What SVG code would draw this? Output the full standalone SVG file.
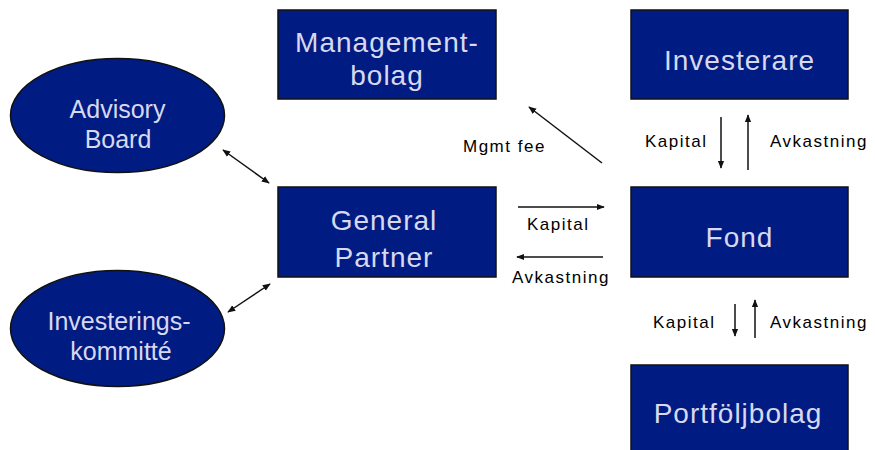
<svg xmlns="http://www.w3.org/2000/svg" width="875" height="450" viewBox="0 0 875 450">
<style>
.box{fill:#001c82;stroke:#111;stroke-width:1.5}
.nt{font-family:"Liberation Sans",Arial,sans-serif;font-size:28px;fill:#d8d8ee;text-anchor:middle;letter-spacing:1px}
.et{font-family:"Liberation Sans",Arial,sans-serif;font-size:25px;fill:#d8d8ee;text-anchor:middle}
.lt{font-family:"Liberation Sans",Arial,sans-serif;font-size:17px;fill:#000;letter-spacing:1.5px}
.c{stroke:#111;stroke-width:1.5;fill:none}
</style>
<defs>
<marker id="ah" viewBox="0 0 10 10" refX="9" refY="5" markerWidth="8" markerHeight="8" markerUnits="userSpaceOnUse" orient="auto-start-reverse">
<path d="M0,1 L10,5 L0,9 z" fill="#111"/>
</marker>
</defs>
<g id="management">
<rect class="box" x="278" y="10" width="218" height="89"/>
<text class="nt" x="387" y="52">Management-</text>
<text class="nt" x="387" y="85">bolag</text>
</g>
<g id="investerare">
<rect class="box" x="631" y="10" width="217" height="89"/>
<text class="nt" x="739.5" y="70">Investerare</text>
</g>
<g id="advisory">
<ellipse class="box" cx="117.5" cy="115.5" rx="107" ry="57"/>
<text class="et" x="117.5" y="118">Advisory</text>
<text class="et" x="118" y="148">Board</text>
</g>
<g id="gp">
<rect class="box" x="278" y="187" width="218" height="90"/>
<text class="nt" x="384" y="230">General</text>
<text class="nt" x="384" y="267">Partner</text>
</g>
<g id="fond">
<rect class="box" x="631" y="187" width="217" height="90"/>
<text class="nt" x="739.5" y="247">Fond</text>
</g>
<g id="ik">
<ellipse class="box" cx="117.5" cy="328.5" rx="107" ry="58"/>
<text class="et" x="119" y="330">Investerings-</text>
<text class="et" x="121" y="360">kommitté</text>
</g>
<g id="portfolj">
<rect class="box" x="631" y="365" width="217" height="95"/>
<text class="nt" x="738" y="423">Portföljbolag</text>
</g>
<g id="connectors">
<line class="c" x1="223" y1="150" x2="269" y2="183" marker-start="url(#ah)" marker-end="url(#ah)"/>
<line class="c" x1="228" y1="312" x2="270" y2="284" marker-start="url(#ah)" marker-end="url(#ah)"/>
<line class="c" x1="602" y1="163" x2="529" y2="107" marker-end="url(#ah)"/>
<line class="c" x1="518" y1="207" x2="604" y2="207" marker-end="url(#ah)"/>
<line class="c" x1="603" y1="257" x2="517" y2="257" marker-end="url(#ah)"/>
<line class="c" x1="721" y1="117" x2="721" y2="168" marker-end="url(#ah)"/>
<line class="c" x1="748" y1="170" x2="748" y2="115" marker-end="url(#ah)"/>
<line class="c" x1="735" y1="304" x2="735" y2="336" marker-end="url(#ah)"/>
<line class="c" x1="755" y1="338" x2="755" y2="300" marker-end="url(#ah)"/>
</g>
<g id="labels">
<text class="lt" x="463" y="152">Mgmt fee</text>
<text class="lt" x="527" y="230">Kapital</text>
<text class="lt" x="512" y="283">Avkastning</text>
<text class="lt" x="645" y="147">Kapital</text>
<text class="lt" x="770" y="147">Avkastning</text>
<text class="lt" x="653" y="328">Kapital</text>
<text class="lt" x="770" y="328">Avkastning</text>
</g>
</svg>
